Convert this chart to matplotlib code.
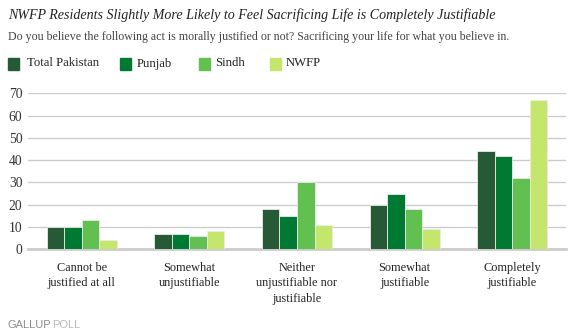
import numpy as np
import matplotlib.pyplot as plt
from matplotlib.patches import Rectangle

# categories and series
categories = ['Cannot be\njustified at all', 'Somewhat\nunjustifiable',
              'Neither\nunjustifiable nor\njustifiable', 'Somewhat\njustifiable',
              'Completely\njustifiable']
series_names = ['Total Pakistan', 'Punjab', 'Sindh', 'NWFP']
total_pakistan = [10, 7, 18, 20, 44]
punjab = [10, 7, 15, 25, 42]
sindh = [13, 6, 30, 18, 32]
nwfp = [4, 8, 11, 9, 67]
colors = ['#265936', '#007a33', '#62c050', '#c5e66d']

W, H = 573, 336
fig = plt.figure(figsize=(W / 100, H / 100), dpi=100)
plt.rcParams['font.family'] = ['Liberation Serif', 'DejaVu Serif']

# axes placed in pixel coords
x0, x1 = 28, 566
y0, y1 = 249.3, 93.3
ax = fig.add_axes([x0 / W, 1 - y0 / H, (x1 - x0) / W, (y0 - y1) / H])

x = np.arange(len(categories))
bw = 0.163
all_series = [total_pakistan, punjab, sindh, nwfp]
for i, vals in enumerate(all_series):
    ax.bar(x + (i - 1.5) * bw, vals, bw, color=colors[i],
           edgecolor='#e8eee4', linewidth=0.6, zorder=3)

ax.set_xlim(-0.5, 4.5)
ax.set_ylim(0, 70)
ax.set_yticks(range(0, 71, 10))
ax.yaxis.grid(True, color='#cccccc', linewidth=1, zorder=0)
ax.tick_params(axis='y', length=0, pad=4, labelsize=9.8, labelcolor='#333333')
ax.set_xticks(x)
ax.set_xticklabels(categories, fontsize=8.8, color='#222222', linespacing=1.4)
ax.tick_params(axis='x', length=0, pad=9)
for s in ['top', 'right', 'left']:
    ax.spines[s].set_visible(False)
ax.spines['bottom'].set_color('#cccccc')
ax.spines['bottom'].set_linewidth(2)

# title, subtitle
fig.text(8 / W, 1 - 15 / H, 'NWFP Residents Slightly More Likely to Feel Sacrificing Life is Completely Justifiable',
         fontsize=10.1, style='italic', color='#222222', va='center')
fig.text(8 / W, 1 - 37 / H,
         'Do you believe the following act is morally justified or not? Sacrificing your life for what you believe in.',
         fontsize=8.55, color='#444444', va='center')

# legend
leg_sq = [8, 120, 199, 270]
leg_tx = [27, 137, 215, 286]
for i, name in enumerate(series_names):
    fig.patches.append(Rectangle((leg_sq[i] / W, 1 - 70 / H), 11 / W, 12 / H,
                                 transform=fig.transFigure, color=colors[i]))
    fig.text(leg_tx[i] / W, 1 - 63.5 / H, name, fontsize=9.2, color='#222222', va='center')

fig.text(8 / W, 1 - 325 / H, 'GALLUP', fontsize=8, color='#8c8c8c', va='center',
         family=['Liberation Sans', 'DejaVu Sans'])
fig.text(52 / W, 1 - 325 / H, 'POLL', fontsize=8, color='#b8b8b8', va='center',
         family=['Liberation Sans', 'DejaVu Sans'])

fig.savefig('out.png', dpi=100)
